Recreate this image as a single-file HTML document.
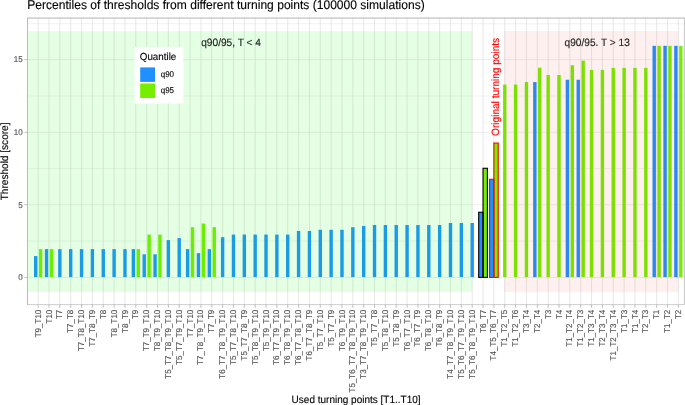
<!DOCTYPE html>
<html lang="en"><head><meta charset="utf-8"><title>Percentiles of thresholds from different turning points</title>
<style>html,body{margin:0;padding:0;background:#fff;}body{width:685px;height:405px;overflow:hidden;}svg{display:block;font-family:"Liberation Sans",sans-serif;text-rendering:geometricPrecision;}text{paint-order:stroke;stroke-width:0.12px;stroke-linejoin:round;}</style></head><body>
<svg width="685" height="405" viewBox="0 0 685 405">
<rect x="0" y="0" width="685" height="405" fill="#fff"/>
<g stroke="#dedede" fill="none">
<line x1="27.5" x2="684.4" y1="241.1" y2="241.1" stroke-width="0.4"/>
<line x1="27.5" x2="684.4" y1="168.5" y2="168.5" stroke-width="0.4"/>
<line x1="27.5" x2="684.4" y1="96.0" y2="96.0" stroke-width="0.4"/>
<line x1="27.5" x2="684.4" y1="23.8" y2="23.8" stroke-width="0.4"/>
<line x1="27.5" x2="684.4" y1="277.45" y2="277.45" stroke-width="0.55"/>
<line x1="27.5" x2="684.4" y1="204.7" y2="204.7" stroke-width="0.55"/>
<line x1="27.5" x2="684.4" y1="132.3" y2="132.3" stroke-width="0.55"/>
<line x1="27.5" x2="684.4" y1="59.6" y2="59.6" stroke-width="0.55"/>
<line x1="38.15" x2="38.15" y1="18.05" y2="304.6" stroke-width="0.7"/>
<line x1="49" x2="49" y1="18.05" y2="304.6" stroke-width="0.7"/>
<line x1="59.85" x2="59.85" y1="18.05" y2="304.6" stroke-width="0.7"/>
<line x1="70.7" x2="70.7" y1="18.05" y2="304.6" stroke-width="0.7"/>
<line x1="81.55" x2="81.55" y1="18.05" y2="304.6" stroke-width="0.7"/>
<line x1="92.41" x2="92.41" y1="18.05" y2="304.6" stroke-width="0.7"/>
<line x1="103.26" x2="103.26" y1="18.05" y2="304.6" stroke-width="0.7"/>
<line x1="114.11" x2="114.11" y1="18.05" y2="304.6" stroke-width="0.7"/>
<line x1="124.96" x2="124.96" y1="18.05" y2="304.6" stroke-width="0.7"/>
<line x1="135.81" x2="135.81" y1="18.05" y2="304.6" stroke-width="0.7"/>
<line x1="146.66" x2="146.66" y1="18.05" y2="304.6" stroke-width="0.7"/>
<line x1="157.51" x2="157.51" y1="18.05" y2="304.6" stroke-width="0.7"/>
<line x1="168.36" x2="168.36" y1="18.05" y2="304.6" stroke-width="0.7"/>
<line x1="179.21" x2="179.21" y1="18.05" y2="304.6" stroke-width="0.7"/>
<line x1="190.06" x2="190.06" y1="18.05" y2="304.6" stroke-width="0.7"/>
<line x1="200.92" x2="200.92" y1="18.05" y2="304.6" stroke-width="0.7"/>
<line x1="211.77" x2="211.77" y1="18.05" y2="304.6" stroke-width="0.7"/>
<line x1="222.62" x2="222.62" y1="18.05" y2="304.6" stroke-width="0.7"/>
<line x1="233.47" x2="233.47" y1="18.05" y2="304.6" stroke-width="0.7"/>
<line x1="244.32" x2="244.32" y1="18.05" y2="304.6" stroke-width="0.7"/>
<line x1="255.17" x2="255.17" y1="18.05" y2="304.6" stroke-width="0.7"/>
<line x1="266.02" x2="266.02" y1="18.05" y2="304.6" stroke-width="0.7"/>
<line x1="276.87" x2="276.87" y1="18.05" y2="304.6" stroke-width="0.7"/>
<line x1="287.72" x2="287.72" y1="18.05" y2="304.6" stroke-width="0.7"/>
<line x1="298.57" x2="298.57" y1="18.05" y2="304.6" stroke-width="0.7"/>
<line x1="309.43" x2="309.43" y1="18.05" y2="304.6" stroke-width="0.7"/>
<line x1="320.28" x2="320.28" y1="18.05" y2="304.6" stroke-width="0.7"/>
<line x1="331.13" x2="331.13" y1="18.05" y2="304.6" stroke-width="0.7"/>
<line x1="341.98" x2="341.98" y1="18.05" y2="304.6" stroke-width="0.7"/>
<line x1="352.83" x2="352.83" y1="18.05" y2="304.6" stroke-width="0.7"/>
<line x1="363.68" x2="363.68" y1="18.05" y2="304.6" stroke-width="0.7"/>
<line x1="374.53" x2="374.53" y1="18.05" y2="304.6" stroke-width="0.7"/>
<line x1="385.38" x2="385.38" y1="18.05" y2="304.6" stroke-width="0.7"/>
<line x1="396.23" x2="396.23" y1="18.05" y2="304.6" stroke-width="0.7"/>
<line x1="407.08" x2="407.08" y1="18.05" y2="304.6" stroke-width="0.7"/>
<line x1="417.94" x2="417.94" y1="18.05" y2="304.6" stroke-width="0.7"/>
<line x1="428.79" x2="428.79" y1="18.05" y2="304.6" stroke-width="0.7"/>
<line x1="439.64" x2="439.64" y1="18.05" y2="304.6" stroke-width="0.7"/>
<line x1="450.49" x2="450.49" y1="18.05" y2="304.6" stroke-width="0.7"/>
<line x1="461.34" x2="461.34" y1="18.05" y2="304.6" stroke-width="0.7"/>
<line x1="472.19" x2="472.19" y1="18.05" y2="304.6" stroke-width="0.7"/>
<line x1="483.04" x2="483.04" y1="18.05" y2="304.6" stroke-width="0.7"/>
<line x1="493.89" x2="493.89" y1="18.05" y2="304.6" stroke-width="0.7"/>
<line x1="504.74" x2="504.74" y1="18.05" y2="304.6" stroke-width="0.7"/>
<line x1="515.59" x2="515.59" y1="18.05" y2="304.6" stroke-width="0.7"/>
<line x1="526.45" x2="526.45" y1="18.05" y2="304.6" stroke-width="0.7"/>
<line x1="537.3" x2="537.3" y1="18.05" y2="304.6" stroke-width="0.7"/>
<line x1="548.15" x2="548.15" y1="18.05" y2="304.6" stroke-width="0.7"/>
<line x1="559" x2="559" y1="18.05" y2="304.6" stroke-width="0.7"/>
<line x1="569.85" x2="569.85" y1="18.05" y2="304.6" stroke-width="0.7"/>
<line x1="580.7" x2="580.7" y1="18.05" y2="304.6" stroke-width="0.7"/>
<line x1="591.55" x2="591.55" y1="18.05" y2="304.6" stroke-width="0.7"/>
<line x1="602.4" x2="602.4" y1="18.05" y2="304.6" stroke-width="0.7"/>
<line x1="613.25" x2="613.25" y1="18.05" y2="304.6" stroke-width="0.7"/>
<line x1="624.1" x2="624.1" y1="18.05" y2="304.6" stroke-width="0.7"/>
<line x1="634.96" x2="634.96" y1="18.05" y2="304.6" stroke-width="0.7"/>
<line x1="645.81" x2="645.81" y1="18.05" y2="304.6" stroke-width="0.7"/>
<line x1="656.66" x2="656.66" y1="18.05" y2="304.6" stroke-width="0.7"/>
<line x1="667.51" x2="667.51" y1="18.05" y2="304.6" stroke-width="0.7"/>
<line x1="678.36" x2="678.36" y1="18.05" y2="304.6" stroke-width="0.7"/>
</g>
<g fill-opacity="1">
<rect x="34" y="256.06" width="3.4" height="21.04" fill="#1E90FF"/>
<rect x="38.9" y="249.1" width="3.4" height="28" fill="#76EE00"/>
<rect x="44.85" y="249.1" width="3.4" height="28" fill="#1E90FF"/>
<rect x="49.75" y="249.1" width="3.4" height="28" fill="#76EE00"/>
<rect x="58.15" y="249.1" width="3.4" height="28" fill="#1E90FF"/>
<rect x="69" y="249.1" width="3.4" height="28" fill="#1E90FF"/>
<rect x="79.85" y="249.1" width="3.4" height="28" fill="#1E90FF"/>
<rect x="90.7" y="249.1" width="3.4" height="28" fill="#1E90FF"/>
<rect x="101.56" y="249.1" width="3.4" height="28" fill="#1E90FF"/>
<rect x="112.41" y="249.1" width="3.4" height="28" fill="#1E90FF"/>
<rect x="123.26" y="249.1" width="3.4" height="28" fill="#1E90FF"/>
<rect x="131.66" y="249.1" width="3.4" height="28" fill="#1E90FF"/>
<rect x="136.56" y="249.1" width="3.4" height="28" fill="#76EE00"/>
<rect x="142.51" y="254.32" width="3.4" height="22.78" fill="#1E90FF"/>
<rect x="147.41" y="234.59" width="3.4" height="42.51" fill="#76EE00"/>
<rect x="153.36" y="254.32" width="3.4" height="22.78" fill="#1E90FF"/>
<rect x="158.26" y="234.59" width="3.4" height="42.51" fill="#76EE00"/>
<rect x="166.66" y="240.1" width="3.4" height="37" fill="#1E90FF"/>
<rect x="177.51" y="238.07" width="3.4" height="39.03" fill="#1E90FF"/>
<rect x="185.91" y="249.1" width="3.4" height="28" fill="#1E90FF"/>
<rect x="190.81" y="227.19" width="3.4" height="49.91" fill="#76EE00"/>
<rect x="196.77" y="253.16" width="3.4" height="23.94" fill="#1E90FF"/>
<rect x="201.67" y="223.56" width="3.4" height="53.54" fill="#76EE00"/>
<rect x="207.62" y="249.1" width="3.4" height="28" fill="#1E90FF"/>
<rect x="212.52" y="227.19" width="3.4" height="49.91" fill="#76EE00"/>
<rect x="220.92" y="237.2" width="3.4" height="39.9" fill="#1E90FF"/>
<rect x="231.77" y="234.59" width="3.4" height="42.51" fill="#1E90FF"/>
<rect x="242.62" y="234.59" width="3.4" height="42.51" fill="#1E90FF"/>
<rect x="253.47" y="234.59" width="3.4" height="42.51" fill="#1E90FF"/>
<rect x="264.32" y="234.59" width="3.4" height="42.51" fill="#1E90FF"/>
<rect x="275.17" y="234.59" width="3.4" height="42.51" fill="#1E90FF"/>
<rect x="286.02" y="234.59" width="3.4" height="42.51" fill="#1E90FF"/>
<rect x="296.87" y="230.96" width="3.4" height="46.14" fill="#1E90FF"/>
<rect x="307.73" y="230.96" width="3.4" height="46.14" fill="#1E90FF"/>
<rect x="318.58" y="229.8" width="3.4" height="47.3" fill="#1E90FF"/>
<rect x="329.43" y="229.8" width="3.4" height="47.3" fill="#1E90FF"/>
<rect x="340.28" y="229.8" width="3.4" height="47.3" fill="#1E90FF"/>
<rect x="351.13" y="227.19" width="3.4" height="49.91" fill="#1E90FF"/>
<rect x="361.98" y="226.02" width="3.4" height="51.08" fill="#1E90FF"/>
<rect x="372.83" y="225.01" width="3.4" height="52.09" fill="#1E90FF"/>
<rect x="383.68" y="225.01" width="3.4" height="52.09" fill="#1E90FF"/>
<rect x="394.53" y="225.01" width="3.4" height="52.09" fill="#1E90FF"/>
<rect x="405.38" y="225.01" width="3.4" height="52.09" fill="#1E90FF"/>
<rect x="416.24" y="225.01" width="3.4" height="52.09" fill="#1E90FF"/>
<rect x="427.09" y="225.01" width="3.4" height="52.09" fill="#1E90FF"/>
<rect x="437.94" y="225.01" width="3.4" height="52.09" fill="#1E90FF"/>
<rect x="448.79" y="222.98" width="3.4" height="54.12" fill="#1E90FF"/>
<rect x="459.64" y="222.98" width="3.4" height="54.12" fill="#1E90FF"/>
<rect x="470.49" y="222.98" width="3.4" height="54.12" fill="#1E90FF"/>
<rect x="503.04" y="84.55" width="3.4" height="192.55" fill="#76EE00"/>
<rect x="513.89" y="84.55" width="3.4" height="192.55" fill="#76EE00"/>
<rect x="524.75" y="82.09" width="3.4" height="195.01" fill="#76EE00"/>
<rect x="533.15" y="82.09" width="3.4" height="195.01" fill="#1E90FF"/>
<rect x="538.05" y="67.72" width="3.4" height="209.38" fill="#76EE00"/>
<rect x="546.45" y="74.98" width="3.4" height="202.12" fill="#76EE00"/>
<rect x="557.3" y="74.98" width="3.4" height="202.12" fill="#76EE00"/>
<rect x="565.7" y="79.76" width="3.4" height="197.34" fill="#1E90FF"/>
<rect x="570.6" y="65.25" width="3.4" height="211.85" fill="#76EE00"/>
<rect x="576.55" y="79.76" width="3.4" height="197.34" fill="#1E90FF"/>
<rect x="581.45" y="60.61" width="3.4" height="216.49" fill="#76EE00"/>
<rect x="589.85" y="69.9" width="3.4" height="207.2" fill="#76EE00"/>
<rect x="600.7" y="69.9" width="3.4" height="207.2" fill="#76EE00"/>
<rect x="611.55" y="67.87" width="3.4" height="209.23" fill="#76EE00"/>
<rect x="622.4" y="67.87" width="3.4" height="209.23" fill="#76EE00"/>
<rect x="633.25" y="67.87" width="3.4" height="209.23" fill="#76EE00"/>
<rect x="644.11" y="67.87" width="3.4" height="209.23" fill="#76EE00"/>
<rect x="652.51" y="45.81" width="3.4" height="231.29" fill="#1E90FF"/>
<rect x="657.41" y="45.81" width="3.4" height="231.29" fill="#76EE00"/>
<rect x="663.36" y="45.81" width="3.4" height="231.29" fill="#1E90FF"/>
<rect x="668.26" y="45.81" width="3.4" height="231.29" fill="#76EE00"/>
<rect x="674.21" y="45.81" width="3.4" height="231.29" fill="#1E90FF"/>
<rect x="679.11" y="45.81" width="3.4" height="231.29" fill="#76EE00"/>
</g>
<rect x="27.5" y="31.1" width="444.69" height="260.9" fill="#00ff00" fill-opacity="0.1"/>
<rect x="504.29" y="31.1" width="174.07" height="260.9" fill="#dd2200" fill-opacity="0.066"/>
<rect x="478.7" y="212.24" width="4.34" height="64.86" fill="#1E90FF"/>
<rect x="483.04" y="168.28" width="4.34" height="108.82" fill="#76EE00"/>
<rect x="478.7" y="212.24" width="4.34" height="65.16" fill="none" stroke="#000" stroke-width="1.1"/>
<rect x="483.04" y="168.28" width="4.34" height="109.12" fill="none" stroke="#000" stroke-width="1.1"/>
<rect x="489.55" y="179.3" width="4.34" height="97.8" fill="#1E90FF"/>
<rect x="493.89" y="143.03" width="4.34" height="134.07" fill="#76EE00"/>
<rect x="489.55" y="179.3" width="4.34" height="98.1" fill="none" stroke="#ff0000" stroke-width="1.1"/>
<rect x="493.89" y="143.03" width="4.34" height="134.37" fill="none" stroke="#ff0000" stroke-width="1.1"/>
<g stroke="#b3b3b3" fill="none">
<line x1="27.5" x2="27.5" y1="17.55" y2="305.0" stroke-width="0.9"/>
<line x1="684.4" x2="684.4" y1="17.55" y2="305.0" stroke-width="0.75"/>
<line x1="27.5" x2="684.4" y1="18.05" y2="18.05" stroke-width="1"/>
<line x1="27.5" x2="684.4" y1="304.6" y2="304.6" stroke-width="0.65"/>
</g>
<text transform="translate(201.2,46) scale(1,1.045)" font-size="10.16" fill="#1a1a1a" stroke="#1a1a1a">q90/95, T &lt; 4</text>
<text transform="translate(564.5,46) scale(1,1.045)" font-size="10.16" fill="#1a1a1a" stroke="#1a1a1a">q90/95. T &gt; 13</text>
<text transform="translate(499,135.9) rotate(-90) scale(1,1.045)" font-size="10.08" fill="#ff0000" stroke="#ff0000">Original turning points</text>
<rect x="134.6" y="47" width="48.7" height="56.5" fill="#fff"/>
<text transform="translate(139.8,60) scale(1,1.045)" font-size="9.8" fill="#000" stroke="#000">Quantile</text>
<rect x="140.2" y="67.4" width="14.8" height="14.5" fill="#1E90FF"/>
<rect x="140.2" y="83.5" width="14.8" height="14.5" fill="#76EE00"/>
<text transform="translate(160.7,77) scale(1,1.045)" font-size="8" fill="#000" stroke="#000">q90</text>
<text transform="translate(160.7,93) scale(1,1.045)" font-size="8" fill="#000" stroke="#000">q95</text>
<g stroke="#a8a8a8" stroke-width="0.75">
<line x1="24.4" x2="27.5" y1="277.45" y2="277.45"/>
<line x1="24.4" x2="27.5" y1="204.7" y2="204.7"/>
<line x1="24.4" x2="27.5" y1="132.3" y2="132.3"/>
<line x1="24.4" x2="27.5" y1="59.6" y2="59.6"/>
<line x1="38.15" x2="38.15" y1="304.6" y2="307.8"/>
<line x1="49" x2="49" y1="304.6" y2="307.8"/>
<line x1="59.85" x2="59.85" y1="304.6" y2="307.8"/>
<line x1="70.7" x2="70.7" y1="304.6" y2="307.8"/>
<line x1="81.55" x2="81.55" y1="304.6" y2="307.8"/>
<line x1="92.41" x2="92.41" y1="304.6" y2="307.8"/>
<line x1="103.26" x2="103.26" y1="304.6" y2="307.8"/>
<line x1="114.11" x2="114.11" y1="304.6" y2="307.8"/>
<line x1="124.96" x2="124.96" y1="304.6" y2="307.8"/>
<line x1="135.81" x2="135.81" y1="304.6" y2="307.8"/>
<line x1="146.66" x2="146.66" y1="304.6" y2="307.8"/>
<line x1="157.51" x2="157.51" y1="304.6" y2="307.8"/>
<line x1="168.36" x2="168.36" y1="304.6" y2="307.8"/>
<line x1="179.21" x2="179.21" y1="304.6" y2="307.8"/>
<line x1="190.06" x2="190.06" y1="304.6" y2="307.8"/>
<line x1="200.92" x2="200.92" y1="304.6" y2="307.8"/>
<line x1="211.77" x2="211.77" y1="304.6" y2="307.8"/>
<line x1="222.62" x2="222.62" y1="304.6" y2="307.8"/>
<line x1="233.47" x2="233.47" y1="304.6" y2="307.8"/>
<line x1="244.32" x2="244.32" y1="304.6" y2="307.8"/>
<line x1="255.17" x2="255.17" y1="304.6" y2="307.8"/>
<line x1="266.02" x2="266.02" y1="304.6" y2="307.8"/>
<line x1="276.87" x2="276.87" y1="304.6" y2="307.8"/>
<line x1="287.72" x2="287.72" y1="304.6" y2="307.8"/>
<line x1="298.57" x2="298.57" y1="304.6" y2="307.8"/>
<line x1="309.43" x2="309.43" y1="304.6" y2="307.8"/>
<line x1="320.28" x2="320.28" y1="304.6" y2="307.8"/>
<line x1="331.13" x2="331.13" y1="304.6" y2="307.8"/>
<line x1="341.98" x2="341.98" y1="304.6" y2="307.8"/>
<line x1="352.83" x2="352.83" y1="304.6" y2="307.8"/>
<line x1="363.68" x2="363.68" y1="304.6" y2="307.8"/>
<line x1="374.53" x2="374.53" y1="304.6" y2="307.8"/>
<line x1="385.38" x2="385.38" y1="304.6" y2="307.8"/>
<line x1="396.23" x2="396.23" y1="304.6" y2="307.8"/>
<line x1="407.08" x2="407.08" y1="304.6" y2="307.8"/>
<line x1="417.94" x2="417.94" y1="304.6" y2="307.8"/>
<line x1="428.79" x2="428.79" y1="304.6" y2="307.8"/>
<line x1="439.64" x2="439.64" y1="304.6" y2="307.8"/>
<line x1="450.49" x2="450.49" y1="304.6" y2="307.8"/>
<line x1="461.34" x2="461.34" y1="304.6" y2="307.8"/>
<line x1="472.19" x2="472.19" y1="304.6" y2="307.8"/>
<line x1="483.04" x2="483.04" y1="304.6" y2="307.8"/>
<line x1="493.89" x2="493.89" y1="304.6" y2="307.8"/>
<line x1="504.74" x2="504.74" y1="304.6" y2="307.8"/>
<line x1="515.59" x2="515.59" y1="304.6" y2="307.8"/>
<line x1="526.45" x2="526.45" y1="304.6" y2="307.8"/>
<line x1="537.3" x2="537.3" y1="304.6" y2="307.8"/>
<line x1="548.15" x2="548.15" y1="304.6" y2="307.8"/>
<line x1="559" x2="559" y1="304.6" y2="307.8"/>
<line x1="569.85" x2="569.85" y1="304.6" y2="307.8"/>
<line x1="580.7" x2="580.7" y1="304.6" y2="307.8"/>
<line x1="591.55" x2="591.55" y1="304.6" y2="307.8"/>
<line x1="602.4" x2="602.4" y1="304.6" y2="307.8"/>
<line x1="613.25" x2="613.25" y1="304.6" y2="307.8"/>
<line x1="624.1" x2="624.1" y1="304.6" y2="307.8"/>
<line x1="634.96" x2="634.96" y1="304.6" y2="307.8"/>
<line x1="645.81" x2="645.81" y1="304.6" y2="307.8"/>
<line x1="656.66" x2="656.66" y1="304.6" y2="307.8"/>
<line x1="667.51" x2="667.51" y1="304.6" y2="307.8"/>
<line x1="678.36" x2="678.36" y1="304.6" y2="307.8"/>
</g>
<g font-size="8" fill="#4d4d4d" stroke="#4d4d4d" stroke-width="0.1" text-anchor="end">
<text transform="translate(22.6,280) scale(1,1.045)">0</text>
<text transform="translate(22.6,208) scale(1,1.045)">5</text>
<text transform="translate(22.6,135) scale(1,1.045)">10</text>
<text transform="translate(22.6,62) scale(1,1.045)">15</text>
</g>
<g font-size="8" fill="#4d4d4d" stroke="#4d4d4d" stroke-width="0.1" text-anchor="end">
<text transform="translate(40.7,309.7) rotate(-90) scale(1,1.045)">T9_T10</text>
<text transform="translate(51.55,309.7) rotate(-90) scale(1,1.045)">T10</text>
<text transform="translate(62.4,309.7) rotate(-90) scale(1,1.045)">T7</text>
<text transform="translate(73.25,309.7) rotate(-90) scale(1,1.045)">T7_T8</text>
<text transform="translate(84.1,309.7) rotate(-90) scale(1,1.045)">T7_T8_T10</text>
<text transform="translate(94.95,309.7) rotate(-90) scale(1,1.045)">T7_T8_T9</text>
<text transform="translate(105.81,309.7) rotate(-90) scale(1,1.045)">T8</text>
<text transform="translate(116.66,309.7) rotate(-90) scale(1,1.045)">T8_T10</text>
<text transform="translate(127.51,309.7) rotate(-90) scale(1,1.045)">T8_T9</text>
<text transform="translate(138.36,309.7) rotate(-90) scale(1,1.045)">T9</text>
<text transform="translate(149.21,309.7) rotate(-90) scale(1,1.045)">T7_T9_T10</text>
<text transform="translate(160.06,309.7) rotate(-90) scale(1,1.045)">T8_T9_T10</text>
<text transform="translate(170.91,309.7) rotate(-90) scale(1,1.045)">T5_T7_T8_T9_T10</text>
<text transform="translate(181.76,309.7) rotate(-90) scale(1,1.045)">T5_T7_T9_T10</text>
<text transform="translate(192.61,309.7) rotate(-90) scale(1,1.045)">T7_T10</text>
<text transform="translate(203.47,309.7) rotate(-90) scale(1,1.045)">T7_T8_T9_T10</text>
<text transform="translate(214.32,309.7) rotate(-90) scale(1,1.045)">T7_T9</text>
<text transform="translate(225.17,309.7) rotate(-90) scale(1,1.045)">T6_T7_T8_T9_T10</text>
<text transform="translate(236.02,309.7) rotate(-90) scale(1,1.045)">T5_T7_T8_T10</text>
<text transform="translate(246.87,309.7) rotate(-90) scale(1,1.045)">T5_T7_T8_T9</text>
<text transform="translate(257.72,309.7) rotate(-90) scale(1,1.045)">T5_T8_T9_T10</text>
<text transform="translate(268.57,309.7) rotate(-90) scale(1,1.045)">T5_T9_T10</text>
<text transform="translate(279.42,309.7) rotate(-90) scale(1,1.045)">T6_T7_T9_T10</text>
<text transform="translate(290.27,309.7) rotate(-90) scale(1,1.045)">T6_T8_T9_T10</text>
<text transform="translate(301.12,309.7) rotate(-90) scale(1,1.045)">T6_T7_T8_T10</text>
<text transform="translate(311.98,309.7) rotate(-90) scale(1,1.045)">T6_T7_T8_T9</text>
<text transform="translate(322.83,309.7) rotate(-90) scale(1,1.045)">T5_T7_T10</text>
<text transform="translate(333.68,309.7) rotate(-90) scale(1,1.045)">T5_T7_T9</text>
<text transform="translate(344.53,309.7) rotate(-90) scale(1,1.045)">T6_T9_T10</text>
<text transform="translate(355.38,309.7) rotate(-90) scale(1,1.045)">T5_T6_T7_T8_T9_T10</text>
<text transform="translate(366.23,309.7) rotate(-90) scale(1,1.045)">T3_T7_T8_T9_T10</text>
<text transform="translate(377.08,309.7) rotate(-90) scale(1,1.045)">T5_T7_T8</text>
<text transform="translate(387.93,309.7) rotate(-90) scale(1,1.045)">T5_T8_T10</text>
<text transform="translate(398.78,309.7) rotate(-90) scale(1,1.045)">T5_T8_T9</text>
<text transform="translate(409.63,309.7) rotate(-90) scale(1,1.045)">T6_T7_T10</text>
<text transform="translate(420.49,309.7) rotate(-90) scale(1,1.045)">T6_T7_T9</text>
<text transform="translate(431.34,309.7) rotate(-90) scale(1,1.045)">T6_T8_T10</text>
<text transform="translate(442.19,309.7) rotate(-90) scale(1,1.045)">T6_T8_T9</text>
<text transform="translate(453.04,309.7) rotate(-90) scale(1,1.045)">T4_T7_T8_T9_T10</text>
<text transform="translate(463.89,309.7) rotate(-90) scale(1,1.045)">T5_T6_T7_T9_T10</text>
<text transform="translate(474.74,309.7) rotate(-90) scale(1,1.045)">T5_T6_T8_T9_T10</text>
<text transform="translate(485.59,309.7) rotate(-90) scale(1,1.045)">T6_T7</text>
<text transform="translate(496.44,309.7) rotate(-90) scale(1,1.045)">T4_T5_T6_T7</text>
<text transform="translate(507.29,309.7) rotate(-90) scale(1,1.045)">T1_T2_T5</text>
<text transform="translate(518.14,309.7) rotate(-90) scale(1,1.045)">T1_T2_T6</text>
<text transform="translate(529,309.7) rotate(-90) scale(1,1.045)">T3_T4</text>
<text transform="translate(539.85,309.7) rotate(-90) scale(1,1.045)">T2_T4</text>
<text transform="translate(550.7,309.7) rotate(-90) scale(1,1.045)">T3</text>
<text transform="translate(561.55,309.7) rotate(-90) scale(1,1.045)">T4</text>
<text transform="translate(572.4,309.7) rotate(-90) scale(1,1.045)">T1_T2_T4</text>
<text transform="translate(583.25,309.7) rotate(-90) scale(1,1.045)">T1_T2_T3</text>
<text transform="translate(594.1,309.7) rotate(-90) scale(1,1.045)">T1_T3_T4</text>
<text transform="translate(604.95,309.7) rotate(-90) scale(1,1.045)">T2_T3_T4</text>
<text transform="translate(615.8,309.7) rotate(-90) scale(1,1.045)">T1_T2_T3_T4</text>
<text transform="translate(626.65,309.7) rotate(-90) scale(1,1.045)">T1_T3</text>
<text transform="translate(637.5,309.7) rotate(-90) scale(1,1.045)">T1_T4</text>
<text transform="translate(648.36,309.7) rotate(-90) scale(1,1.045)">T2_T3</text>
<text transform="translate(659.21,309.7) rotate(-90) scale(1,1.045)">T1</text>
<text transform="translate(670.06,309.7) rotate(-90) scale(1,1.045)">T1_T2</text>
<text transform="translate(680.91,309.7) rotate(-90) scale(1,1.045)">T2</text>
</g>
<text transform="translate(27.3,9) scale(1,1.045)" font-size="12.07" fill="#000" stroke="#000">Percentiles of thresholds from different turning points (100000 simulations)</text>
<text transform="translate(356.1,403) scale(1,1.045)" font-size="10" fill="#000" stroke="#000" text-anchor="middle">Used turning points [T1..T10]</text>
<text transform="translate(7.8,161.4) rotate(-90) scale(1,1.045)" font-size="10.08" fill="#000" stroke="#000" text-anchor="middle">Threshold [score]</text>
</svg></body></html>
